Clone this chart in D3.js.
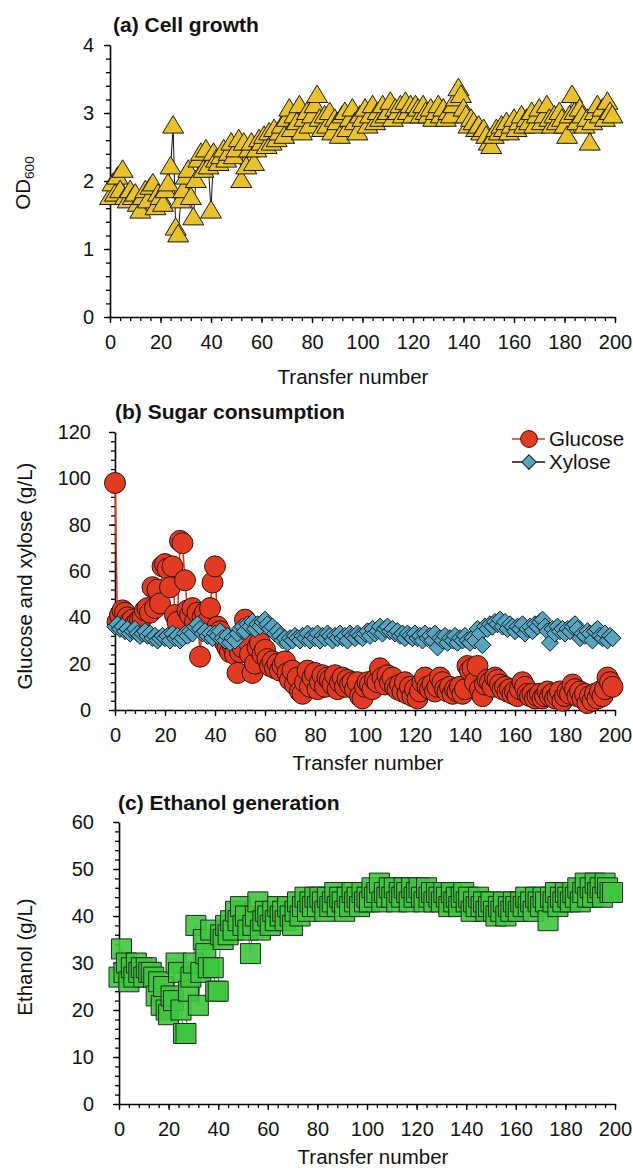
<!DOCTYPE html>
<html>
<head>
<meta charset="utf-8">
<script src="https://cdn.jsdelivr.net/npm/d3@7"></script>
<style>
  body { margin: 0; background: #fff; }
  svg { display: block; }
  text { font-family: "Liberation Sans", Arial, sans-serif; fill: #111; }
</style>
</head>
<body>
<div id="chart"></div>
<script>
// transfer number of each sample (0..199)
const transfers = d3.range(0, 200);

// (a) OD600
const od600 = [
  1.75, 1.95, 1.80, 2.05, 1.85, 2.15, 1.75, 1.70, 1.85, 1.75,
  1.80, 1.65, 1.55, 1.75, 1.85, 1.70, 1.90, 1.95, 1.60, 1.80,
  1.75, 1.65, 1.85, 1.95, 2.20, 2.80, 1.30, 1.20, 1.70, 1.85,
  2.05, 2.15, 1.75, 1.45, 2.00, 2.30, 2.40, 2.15, 2.45, 2.20,
  1.55, 2.40, 2.30, 2.25, 2.35, 2.45, 2.30, 2.40, 2.55, 2.35,
  2.45, 2.60, 2.00, 2.55, 2.20, 2.45, 2.55, 2.25, 2.45, 2.60,
  2.55, 2.65, 2.50, 2.70, 2.55, 2.75, 2.60, 2.70, 2.80, 2.65,
  2.90, 3.05, 2.75, 2.95, 2.85, 3.10, 2.70, 2.90, 3.00, 2.80,
  2.95, 3.10, 3.25, 2.90, 2.75, 2.95, 2.80, 3.00, 2.70, 2.90,
  2.85, 2.65, 2.95, 3.00, 2.75, 2.90, 3.05, 2.85, 2.70, 2.95,
  2.90, 3.05, 2.80, 2.95, 3.10, 2.85, 3.00, 2.90, 3.10, 2.95,
  3.00, 3.15, 2.90, 3.05, 3.00, 3.10, 2.95, 3.15, 3.00, 3.10,
  2.95, 3.10, 3.05, 2.95, 3.10, 3.00, 2.95, 3.05, 2.90, 3.00,
  3.10, 2.95, 3.05, 2.90, 3.00, 2.95, 3.10, 3.20, 3.35, 3.25,
  3.05, 2.95, 2.80, 2.90, 2.85, 2.75, 2.80, 2.70, 2.75, 2.65,
  2.55, 2.50, 2.65, 2.75, 2.70, 2.80, 2.75, 2.85, 2.70, 2.80,
  2.90, 2.75, 2.85, 2.95, 2.80, 2.90, 2.85, 3.00, 2.80, 2.95,
  3.05, 2.85, 2.95, 3.10, 2.90, 2.80, 2.95, 2.85, 3.00, 2.90,
  2.80, 2.65, 2.95, 3.25, 3.00, 2.85, 3.05, 2.95, 2.80, 2.90,
  2.55, 2.85, 3.00, 3.10, 2.95, 3.05, 2.90, 3.15, 3.00, 2.95
];

// (b) glucose and xylose, g/L
const glucose = [
  98, 38, 41, 43, 42, 40, 38, 39, 37, 38,
  39, 40, 43, 44, 42, 53, 44, 52, 46, 62,
  63, 61, 53, 62, 41, 38, 73, 72, 56, 43,
  41, 44, 38, 42, 23, 40, 42, 38, 44, 55,
  62, 36, 34, 31, 29, 27, 25, 28, 24, 16,
  25, 27, 39, 30, 24, 16, 20, 27, 29, 24,
  26, 22, 19, 21, 18, 20, 17, 19, 21, 16,
  13, 17, 11, 14, 8, 7, 12, 17, 10, 14,
  16, 9, 12, 15, 10, 14, 13, 11, 15, 9,
  12, 14, 10, 13, 11, 12, 9, 12, 6, 5,
  10, 12, 11, 9, 13, 12, 18, 14, 11, 15,
  12, 14, 10, 9, 11, 8, 12, 7, 10, 6,
  9, 5, 8, 12, 14, 10, 9, 11, 8, 10,
  14, 12, 9, 8, 10, 7, 9, 8, 10, 7,
  9, 19, 17, 18, 12, 19, 9, 6, 11, 13,
  12, 10, 14, 13, 11, 9, 10, 8, 9, 7,
  8, 6, 9, 12, 10, 7, 6, 7, 5, 6,
  7, 5, 6, 8, 6, 7, 5, 6, 8, 4,
  6, 8, 7, 11, 9, 6, 8, 5, 7, 3,
  6, 4, 7, 5, 8, 6, 9, 14, 12, 10
];

const xylose = [
  36, 37, 35, 36, 34, 35, 33, 34, 35, 33,
  32, 33, 34, 32, 33, 31, 32, 30, 31, 32,
  31, 32, 30, 33, 31, 32, 30, 31, 33, 32,
  34, 33, 36, 37, 35, 33, 34, 32, 33, 31,
  33, 32, 34, 31, 30, 32, 29, 31, 30, 33,
  35, 36, 34, 37, 36, 38, 35, 37, 36, 38,
  39, 37, 35, 36, 33, 34, 32, 30, 31, 29,
  31, 30, 32, 31, 30, 32, 31, 33, 30, 32,
  31, 33, 30, 32, 31, 33, 32, 30, 32, 31,
  33, 31, 32, 30, 33, 32, 31, 33, 32, 31,
  33, 34, 32, 35, 33, 34, 36, 33, 35, 36,
  34, 35, 33, 34, 32, 33, 31, 33, 32, 31,
  33, 31, 32, 30, 33, 31, 32, 30, 33, 27,
  31, 30, 32, 29, 31, 30, 32, 29, 31, 30,
  32, 30, 29, 31, 30, 35, 33, 28, 36, 35,
  37, 36, 38, 37, 39, 36, 38, 35, 37, 36,
  34, 36, 35, 37, 33, 35, 36, 34, 37, 36,
  38, 39, 36, 34, 29, 35, 33, 36, 34, 35,
  33, 35, 34, 36, 37, 35, 31, 33, 32, 34,
  33, 30, 34, 35, 32, 31, 33, 30, 32, 31
];

// (c) ethanol, g/L
const ethanol = [
  27, 33, 28, 30, 26, 29, 27, 30, 28, 29,
  27, 29, 28, 28, 27, 23, 26, 21, 25, 20,
  19, 23, 22, 30, 28, 20, 15, 15, 24, 27,
  30, 38, 21, 28, 35, 32, 29, 37, 29, 24,
  24, 36, 35, 38, 36, 39, 37, 41, 39, 42,
  38, 40, 37, 32, 38, 40, 43, 37, 39, 41,
  40, 38, 41, 39, 42, 40, 41, 39, 42, 40,
  38, 41, 43, 40, 42, 44, 41, 43, 42, 44,
  42, 44, 43, 41, 44, 42, 43, 45, 42, 44,
  43, 41, 44, 42, 45, 43, 44, 42, 45, 43,
  44, 43, 46, 44, 45, 47, 43, 45, 44, 46,
  44, 46, 43, 45, 44, 46, 45, 43, 46, 44,
  45, 46, 44, 43, 46, 44, 45, 43, 45, 44,
  43, 45, 44, 42, 45, 43, 44, 42, 44, 45,
  43, 44, 41, 43, 42, 44, 42, 43, 41, 42,
  43, 41, 40, 42, 41, 43, 40, 42, 41, 43,
  42, 41, 43, 42, 44, 42, 43, 41, 44, 43,
  42, 44, 43, 39, 44, 43, 45, 42, 44, 43,
  45, 44, 43, 45, 44, 46, 43, 45, 47, 44,
  46, 44, 47, 45, 46, 44, 47, 46, 45, 45
];

const xTicks = [0, 20, 40, 60, 80, 100, 120, 140, 160, 180, 200];
const legendNames = ["Glucose", "Xylose"];

// marker shapes
const triangle = "M0,-11L10.5,6.5L-10.5,6.5Z";
const square = "M-10,-10H10V10H-10Z";
const diamond = "M0,-8.5L8.5,0L0,8.5L-8.5,0Z";
const circle = d3.symbol().type(d3.symbolCircle).size(Math.PI * 10.5 * 10.5)();

const svg = d3.select("#chart").append("svg")
  .attr("width", 633)
  .attr("height", 1168);

function drawPanel(p){
  const g = svg.append("g");

  const x = d3.scaleLinear().domain([0, 200]).range([p.left, 615]);
  const y = d3.scaleLinear().domain([0, p.ymax]).range([p.bottom, p.top]);

  // minor ticks
  g.append("g")
    .attr("transform", "translate(0," + p.bottom + ")")
    .call(d3.axisBottom(x).tickValues(d3.range(0, 201, 4)).tickSize(4).tickFormat(""))
    .call(a => a.select(".domain").remove());
  g.append("g")
    .attr("transform", "translate(" + p.left + ",0)")
    .call(d3.axisLeft(y).tickValues(d3.range(0, p.ymax + 1e-9, p.yMinor)).tickSize(4).tickFormat(""))
    .call(a => a.select(".domain").remove());

  // major ticks
  const xa = g.append("g")
    .attr("transform", "translate(0," + p.bottom + ")")
    .call(d3.axisBottom(x).tickValues(xTicks).tickSize(6).tickSizeOuter(0).tickPadding(12));
  const ya = g.append("g")
    .attr("transform", "translate(" + p.left + ",0)")
    .call(d3.axisLeft(y).tickValues(d3.range(0, p.ymax + 1e-9, p.yMajor))
      .tickFormat(d3.format("~g")).tickSize(6).tickSizeOuter(0).tickPadding(p.pad));

  [xa, ya].forEach(a => {
    a.select(".domain").attr("stroke", "#000").attr("stroke-width", 1.6);
    a.selectAll("text").attr("font-size", "20px").attr("fill", "#111")
      .attr("font-family", '"Liberation Sans", Arial, sans-serif');
  });
  g.selectAll(".tick line").attr("stroke", "#000").attr("stroke-width", 1.3);

  // title
  g.append("text")
    .attr("x", p.titleX).attr("y", p.titleY)
    .attr("font-size", "21px").attr("font-weight", "bold")
    .text(p.title);

  // x label
  g.append("text")
    .attr("x", p.xlabX).attr("y", p.xlabY)
    .attr("text-anchor", "middle")
    .attr("font-size", "20.5px")
    .text("Transfer number");

  // y label
  const yl = g.append("text")
    .attr("transform", "translate(" + p.ylabX + "," + p.ylabY + ") rotate(-90)")
    .attr("text-anchor", "middle")
    .attr("font-size", "20.5px");
  if (p.ylabSub) {
    yl.append("tspan").text(p.ylabel);
    yl.append("tspan").attr("font-size", "13.5px").attr("dy", "0.3em").text(p.ylabSub);
  } else {
    yl.text(p.ylabel);
  }

  p.series.forEach(s => {
    const pts = transfers.map((t, i) => [t, s.values[i]]);
    g.append("path")
      .datum(pts)
      .attr("fill", "none")
      .attr("stroke", s.line)
      .attr("stroke-width", s.lineWidth)
      .attr("d", d3.line().x(d => x(d[0])).y(d => y(d[1])));

    g.append("g").selectAll("path")
      .data(pts)
      .enter()
      .append("path")
      .attr("d", s.shape)
      .attr("transform", d => "translate(" + x(d[0]) + "," + y(d[1]) + ")")
      .attr("fill", s.fill)
      .attr("fill-opacity", s.opacity)
      .attr("stroke", s.stroke)
      .attr("stroke-width", 1);
  });

  return {x: x, y: y, g: g};
}

drawPanel({
  left: 110, top: 45, bottom: 317, ymax: 4, yMajor: 1, yMinor: 0.2, pad: 10,
  title: "(a) Cell growth", titleX: 113, titleY: 32,
  xlabX: 353, xlabY: 384,
  ylabel: "OD", ylabSub: "600", ylabX: 30, ylabY: 183,
  series: [
    {values: od600, shape: triangle, fill: "#e8c12c", stroke: "#1a1a1a", opacity: 1, line: "#111", lineWidth: 1}
  ]
});

drawPanel({
  left: 115, top: 432, bottom: 710, ymax: 120, yMajor: 20, yMinor: 4, pad: 18,
  title: "(b) Sugar consumption", titleX: 115, titleY: 419,
  xlabX: 368, xlabY: 770,
  ylabel: "Glucose and xylose (g/L)", ylabX: 32, ylabY: 576,
  series: [
    {values: glucose, shape: circle, fill: "#e23b22", stroke: "#2a120c", opacity: 1, line: "#d8341c", lineWidth: 1.5},
    {values: xylose, shape: diamond, fill: "#55a5c0", stroke: "#0f1a1e", opacity: 1, line: "#111", lineWidth: 1}
  ]
});

drawPanel({
  left: 119, top: 822, bottom: 1104, ymax: 60, yMajor: 10, yMinor: 2, pad: 19,
  title: "(c) Ethanol generation", titleX: 118, titleY: 810,
  xlabX: 373, xlabY: 1164,
  ylabel: "Ethanol (g/L)", ylabX: 32, ylabY: 957,
  series: [
    {values: ethanol, shape: square, fill: "#3ec63e", stroke: "#1e2a1e", opacity: 0.9, line: "#4a7a4a", lineWidth: 1}
  ]
});

// legend of panel (b)
const legendMarks = [
  {shape: circle, fill: "#e23b22", stroke: "#2a120c", line: "#d8341c", scale: 0.8},
  {shape: diamond, fill: "#55a5c0", stroke: "#0f1a1e", line: "#111", scale: 0.85}
];
const legend = svg.append("g");
legendNames.forEach((name, i) => {
  const ly = 439 + i * 23;
  const m = legendMarks[i];
  legend.append("line")
    .attr("x1", 512).attr("x2", 545).attr("y1", ly).attr("y2", ly)
    .attr("stroke", m.line).attr("stroke-width", 1.5);
  legend.append("path")
    .attr("d", m.shape)
    .attr("transform", "translate(529," + ly + ") scale(" + m.scale + ")")
    .attr("fill", m.fill).attr("stroke", m.stroke).attr("stroke-width", 1.2);
  legend.append("text")
    .attr("x", 549).attr("y", ly + 7)
    .attr("font-size", "20.5px")
    .text(name);
});
</script>
</body>
</html>
